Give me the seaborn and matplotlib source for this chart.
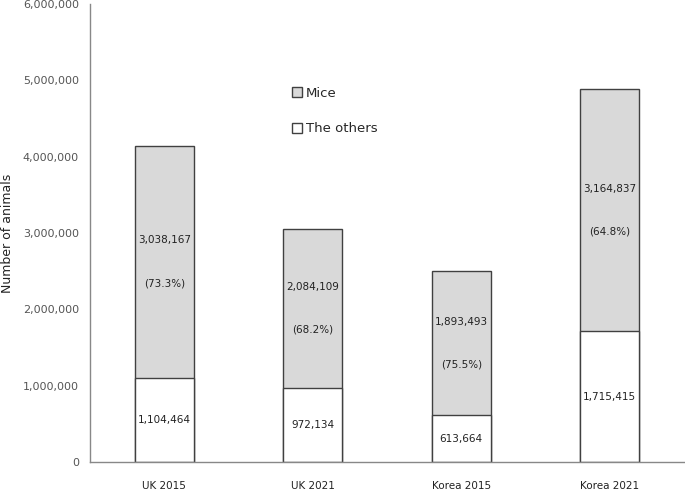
import matplotlib
matplotlib.use('Agg')
import matplotlib.pyplot as plt
from matplotlib.patches import Patch
import seaborn as sns
import pandas as pd

groups = ['UK 2015', 'UK 2021', 'Korea 2015', 'Korea 2021']
mice = [3038167, 2084109, 1893493, 3164837]
others = [1104464, 972134, 613664, 1715415]
mice_pct = ['(73.3%)', '(68.2%)', '(75.5%)', '(64.8%)']
y_ticks = [0, 1000000, 2000000, 3000000, 4000000, 5000000, 6000000]

df = pd.DataFrame({'group': groups, 'mice': mice, 'others': others})
df['total'] = df['mice'] + df['others']

sns.set_style('white')
plt.rcParams['font.family'] = ['DejaVu Sans']
plt.rcParams['font.size'] = 7.5

fig = plt.figure(figsize=(6.85, 4.92), dpi=100)
ax = fig.add_axes([90 / 685, 30 / 492, 594 / 685, 458 / 492])

edge = '#404040'
sns.barplot(data=df, x='group', y='total', color='#d9d9d9', edgecolor=edge,
            linewidth=1, width=0.4, saturation=1, ax=ax)
sns.barplot(data=df, x='group', y='others', color='white', edgecolor=edge,
            linewidth=1, width=0.4, saturation=1, ax=ax)

for i, r in df.iterrows():
    ax.text(i, r['others'] / 2, f"{r['others']:,}", ha='center', va='center',
            fontsize=7.5, color='#222222')
    mid = r['others'] + r['mice'] / 2
    ax.text(i, mid + 280000, f"{r['mice']:,}", ha='center', va='center',
            fontsize=7.5, color='#222222')
    ax.text(i, mid - 280000, mice_pct[i], ha='center', va='center',
            fontsize=7.5, color='#222222')

ax.set_ylim(0, 6000000)
ax.set_xlim(-0.5, 3.5)
ax.set_yticks(y_ticks)
ax.set_yticklabels([f'{v:,}' for v in y_ticks], color='#555555', fontsize=8)
ax.set_xticks(range(len(groups)))
ax.set_xticklabels(groups, color='#222222', fontsize=7.5)
ax.set_xticks([-0.5, 0.5, 1.5, 2.5, 3.5], minor=True)
ax.tick_params(axis='x', which='major', length=0, pad=14)
ax.tick_params(axis='x', which='minor', length=5, color='#888888', direction='out')
ax.tick_params(axis='y', length=5, color='#888888', direction='out', pad=3)
ax.set_xlabel('')
ax.set_ylabel('Number of animals', fontsize=9, color='#222222', labelpad=6)

for s in ['top', 'right']:
    ax.spines[s].set_visible(False)
for s in ['left', 'bottom']:
    ax.spines[s].set_color('#888888')
    ax.spines[s].set_linewidth(1)

handles = [Patch(facecolor='#d9d9d9', edgecolor=edge, label='Mice'),
           Patch(facecolor='white', edgecolor=edge, label='The others')]
ax.legend(handles=handles, loc='upper left', bbox_to_anchor=(0.32, 0.845),
          frameon=False, fontsize=9.5, handlelength=0.75, handleheight=0.75,
          handletextpad=0.3, labelspacing=1.7)

fig.savefig('out.png', dpi=100)
